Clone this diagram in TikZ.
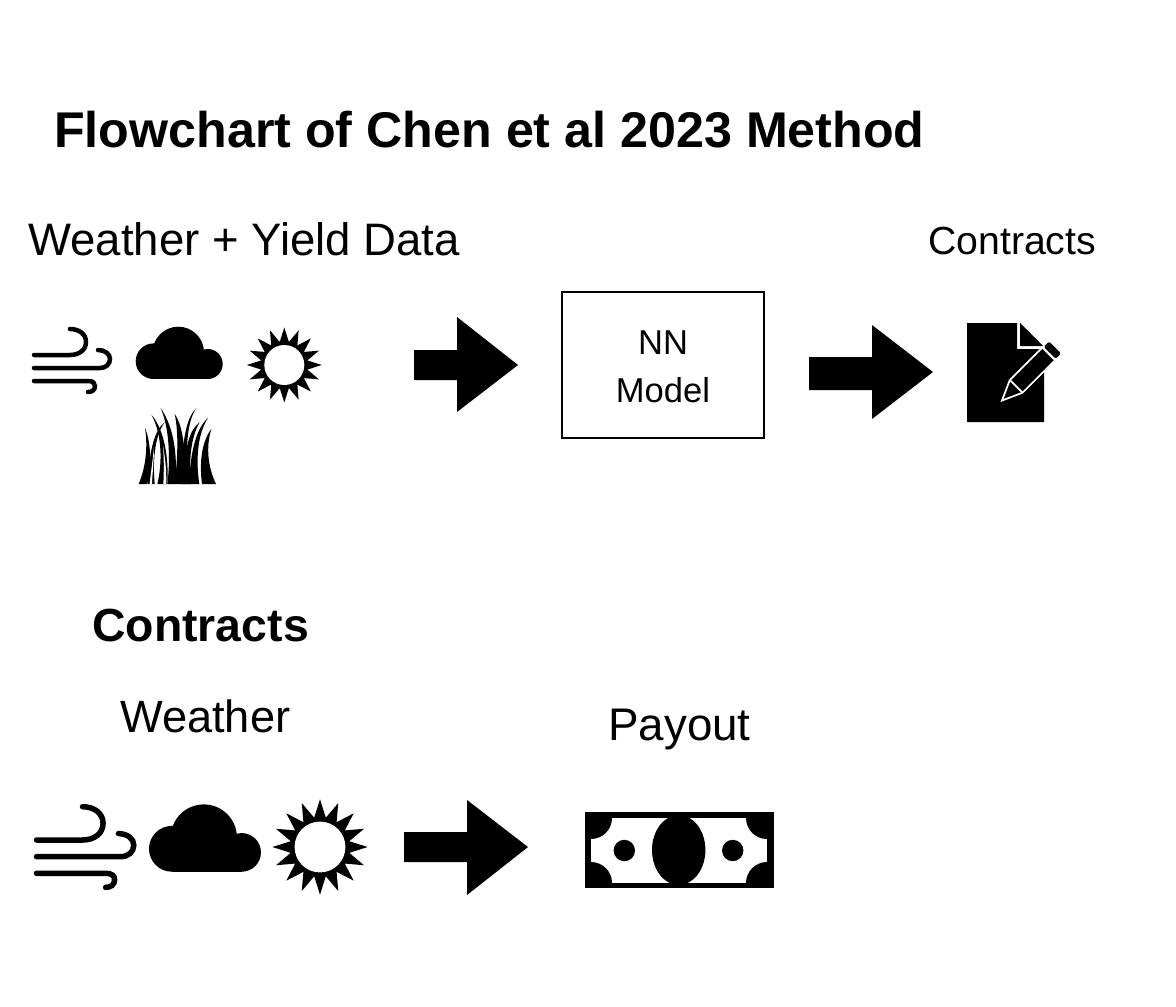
\documentclass[tikz,border=0pt]{standalone}
\usepackage{fontspec}
\setmainfont{Liberation Sans}
\newcommand{\ptfont}[1]{\fontsize{#1pt}{#1pt}\selectfont}
\newcommand{\windicon}[4]{%
  \begin{scope}[shift={(#1,#2)},scale=#3,line width=#4*0.75pt,line cap=round,fill=none]
    \draw (0,0) -- (36,0) .. controls (45,0) and (52,-5) .. (52,-13) .. controls (52,-21) and (45,-26) .. (36,-26);
    \draw (0,13) -- (66,13) .. controls (72,13) and (76,9) .. (76,4) .. controls (76,-1) and (71,-5) .. (64,-5);
    \draw (0,26) -- (54,26) .. controls (59,26) and (61,28) .. (61,31) .. controls (61,35) and (58,37) .. (54,37);
  \end{scope}}
\newcommand{\cloudicon}[3]{%
  \begin{scope}[shift={(#1,#2)},scale=#3]
    \fill (17.8,-17.8) circle (17.8);
    \fill (42.6,-26.6) circle (25.7);
    \fill (72,-15) circle (15);
    \fill (17.8,-24) rectangle (72,0);
  \end{scope}}
\newcommand{\sunicon}[3]{%
  \begin{scope}[shift={(#1,#2)},scale=#3]
    \fill (0:37.5) \foreach \i in {0,...,15} { -- (\i*22.5+11.25:23.5) -- (\i*22.5+22.5:37.5) } -- cycle;
    \fill[white] (0,0) circle (20);
  \end{scope}}
\tikzset{
  lbl/.style={anchor=base,inner sep=0pt,text=black},
  blockarrow/.style={fill=black,draw=none},
  modelbox/.style={draw=black,fill=white}
}
\begin{document}
\begin{tikzpicture}[x=0.75pt,y=-0.75pt]
\useasboundingbox (0,0) rectangle (1176,1006);
% text
\node[lbl,anchor=base west,font=\ptfont{37.65}\bfseries] (title) at (54,147) {Flowchart of Chen et al 2023 Method};
\node[lbl,anchor=base west,font=\ptfont{34.15}] (wy) at (28,255) {Weather + Yield Data};
\node[lbl,anchor=base west,font=\ptfont{29.4}] (c1) at (928,254) {Contracts};
\node[lbl,anchor=base west,font=\ptfont{34.8}\bfseries] (c2) at (92,641) {Contracts};
\node[lbl,anchor=base west,font=\ptfont{33.9}] (w2) at (120,732) {Weather};
\node[lbl,anchor=base west,font=\ptfont{34.3}] (pay) at (608,740) {Payout};
% box
\node[modelbox,minimum width=202*0.75pt,minimum height=146*0.75pt,inner sep=0pt,line width=1.5*0.75pt] (nn) at (663,365) {};
\node[lbl,font=\ptfont{25.9}] (nnt) at (663,354) {NN};
\node[lbl,font=\ptfont{25.9}] (mdl) at (663,402) {Model};
% block arrows
\fill[blockarrow] (414,350) -- (457,350) -- (457,317) -- (518,365) -- (457,412) -- (457,380) -- (414,380) -- cycle;
\fill[blockarrow] (809,357) -- (872,357) -- (872,325) -- (933,372) -- (872,419) -- (872,390) -- (809,390) -- cycle;
\fill[blockarrow] (404,832) -- (467,832) -- (467,800) -- (528,847) -- (467,895) -- (467,862) -- (404,862) -- cycle;
% weather icons
\windicon{34}{355}{1}{4.5}
\cloudicon{135.7}{379}{1}
\sunicon{284.3}{365}{1}
\windicon{36.5}{840}{1.28}{5.5}
\cloudicon{149}{871.7}{1.287}
\sunicon{320}{847}{1.27}
% grass
\begin{scope}[shift={(134,404)},scale=1/3]
  \fill (33,72) .. controls (50,110) and (55,190) .. (40,240) -- (14,240) .. controls (35,190) and (42,130) .. (33,72) -- cycle;
  \fill (52,32) .. controls (90,75) and (105,160) .. (100,240) -- (70,240) .. controls (85,180) and (85,90) .. (52,32) -- cycle;
  \fill (92,55) .. controls (65,75) and (45,130) .. (42,240) -- (62,240) .. controls (55,160) and (65,90) .. (92,55) -- cycle;
  \fill (80,12) .. controls (120,70) and (130,150) .. (125,240) -- (100,240) .. controls (110,160) and (105,70) .. (80,12) -- cycle;
  \fill (122,30) .. controls (150,70) and (155,150) .. (152,240) -- (122,240) .. controls (130,170) and (135,90) .. (122,30) -- cycle;
  \fill (187,12) .. controls (160,40) and (145,90) .. (140,240) -- (165,240) .. controls (155,150) and (155,60) .. (187,12) -- cycle;
  \fill (197,55) .. controls (170,75) and (150,120) .. (150,240) -- (170,240) .. controls (165,170) and (170,100) .. (197,55) -- cycle;
  \fill (222,42) .. controls (190,70) and (170,130) .. (165,240) -- (196,240) .. controls (185,170) and (190,90) .. (222,42) -- cycle;
  \fill (232,75) .. controls (205,110) and (195,170) .. (204,240) -- (246,240) .. controls (222,190) and (215,130) .. (232,75) -- cycle;
  \fill[white] (47,240) .. controls (50,210) and (56,170) .. (60,130) .. controls (60,170) and (55,210) .. (54,240) -- cycle;
  \fill[white] (88,240) .. controls (90,200) and (90,170) .. (87,125) .. controls (95,170) and (97,200) .. (97,240) -- cycle;
\end{scope}
% document with pencil
\fill (967,323) -- (1017,323) -- (1017,349) -- (1044,349) -- (1044,422) -- (967,422) -- cycle;
\fill (1020,323) -- (1020,346) -- (1043,346) -- cycle;
\begin{scope}[shift={(1002,400.5)},rotate=45]
  \draw[white,fill=black,line width=1.3pt,line join=miter] (0,0) -- (20,-9) -- (66,-9) -- (66,9) -- (20,9) -- cycle;
  \draw[white,line width=1.3pt] (20,-9) -- (20,9);
  \fill[black,rounded corners=1.5pt] (67.5,-8.5) rectangle (75,8.5);
\end{scope}
% banknote
\fill (585,812) rectangle (774,888);
\fill[white] (591,818) rectangle (767,883);
\begin{scope}
  \clip (591,818) rectangle (767,883);
  \fill (591,818) circle (21);
  \fill (767,818) circle (21);
  \fill (591,883) circle (21);
  \fill (767,883) circle (21);
\end{scope}
\fill (678.7,850) ellipse (26.7 and 35);
\fill (624.3,850.5) circle (10.7);
\fill (732.7,850.5) circle (10.7);
\end{tikzpicture}
\end{document}
